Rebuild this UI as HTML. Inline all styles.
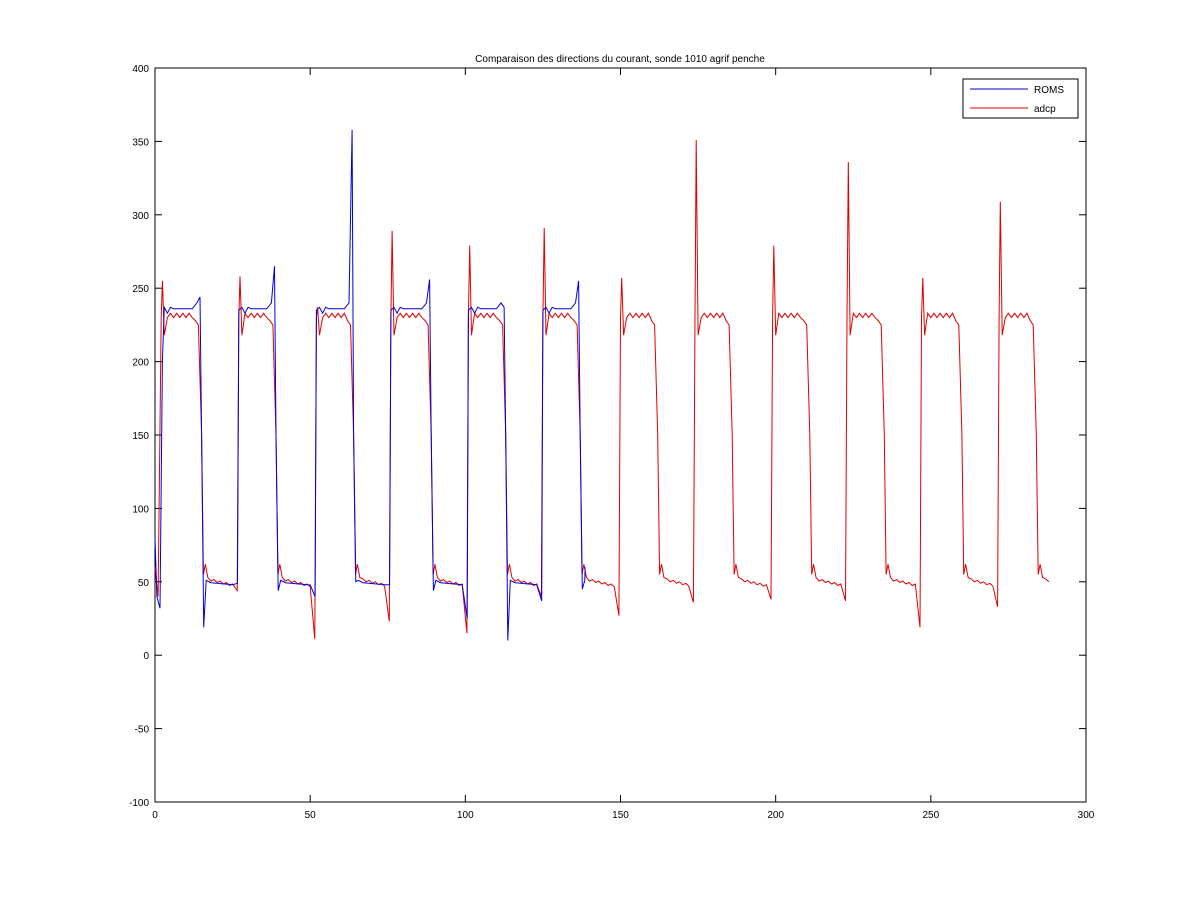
<!DOCTYPE html>
<html><head><meta charset="utf-8"><style>
body{margin:0;background:#fff;}
svg{display:block;font-family:"Liberation Sans",sans-serif;}
</style></head><body>
<svg id="s" width="1200" height="901" xmlns="http://www.w3.org/2000/svg">
<rect width="1200" height="901" fill="#fff"/>
<rect x="155" y="68" width="931" height="734" fill="#fff" stroke="#000" stroke-width="1"/>
<g id="ticks" stroke="#000" stroke-width="1"></g>
<g id="lab" font-size="10" fill="#000"></g>
<text x="620" y="62" font-size="10" text-anchor="middle">Comparaison des directions du courant, sonde 1010 agrif penche</text>
<polyline id="red" fill="none" stroke="#e00000" stroke-width="1"/>
<polyline id="blue" fill="none" stroke="#0000e0" stroke-width="1"/>
<g>
<rect x="963" y="79" width="115" height="39" fill="#fff" stroke="#000"/>
<line x1="970" y1="89" x2="1028" y2="89" stroke="#0000e0"/>
<line x1="970" y1="108" x2="1028" y2="108" stroke="#e00000"/>
<text x="1034" y="93" font-size="10">ROMS</text>
<text x="1034" y="112" font-size="10">adcp</text>
</g>
</svg>
<script>
var X=function(v){return 155+v*931/300;},Y=function(v){return 68+(400-v)*1.468;};
var t=document.getElementById('ticks'),l=document.getElementById('lab'),h='',g='';
for(var v=0;v<=300;v+=50){var x=X(v);h+='<line x1="'+x+'" y1="802" x2="'+x+'" y2="795"/><line x1="'+x+'" y1="68" x2="'+x+'" y2="75"/>';g+='<text x="'+x+'" y="818" text-anchor="middle">'+v+'</text>';}
for(var v=-100;v<=400;v+=50){var y=Y(v);h+='<line x1="155" y1="'+y+'" x2="162" y2="'+y+'"/><line x1="1086" y1="'+y+'" x2="1079" y2="'+y+'"/>';g+='<text x="149" y="'+(y+4)+'" text-anchor="end">'+v+'</text>';}
t.innerHTML=h;l.innerHTML=g;
var rise=[2,27,52,76,101,125,150,174,199,223,247,272];
var peak=[255,258,237,289,279,291,257,351,279,336,257,309];
var fall=[15,39,64,89,113,137,162,186,211,235,260,284];
var mins=[44,11,23,15,40,27,36,38,37,19,33];
var r=[[0,60],[1,40]];
for(var i=0;i<12;i++){
 var a=rise[i],b=fall[i];
 r.push([a,230]);r.push([a+0.4,peak[i]]);r.push([a+1,218]);
 for(var k=a+2;k<b-2;k++)r.push([k,230+((k%2)?3:0)]);
 r.push([b-2,228]);r.push([b-1,225]);r.push([b,150]);r.push([b+0.6,55]);
 r.push([b+1.2,62]);r.push([b+2,53]);
 var e=(i<11)?rise[i+1]:290;
 for(var k=b+3;k<e-1;k++)r.push([k,52-(k-b)*0.5+((k%2)?1.5:0)]);
 if(i<11)r.push([e-0.5,mins[i]]);else r.push([288,50]);
}
var bl=[[0,80],[0.6,40],[1.6,32],[2.4,200]];
var bpk=[244,265,358,256,237,255],bmin=[19,44,50,44,10,45],bdip=[49,40,48,25,37];
for(var i=0;i<6;i++){
 var a=rise[i],b=fall[i];
 if(i>0)bl.push([a,235]);
 bl.push([a+1,237]);bl.push([a+2,233]);bl.push([a+3,237]);
 for(var k=a+4;k<b-2;k++)bl.push([k,236]);
 bl.push([b-1.5,240]);bl.push([b-0.5,bpk[i]]);bl.push([b,150]);
 bl.push([b+0.7,bmin[i]]);bl.push([b+1.5,51]);
 if(i<5){var e=rise[i+1];for(var k=b+3;k<e-1;k++)bl.push([k,50-(k-b)*0.2]);bl.push([e-0.4,bdip[i]]);}
 else{bl.push([b+1.6,60]);}
}
function P(a){return a.map(function(p){return X(p[0]).toFixed(1)+','+Y(p[1]).toFixed(1)}).join(' ');}
document.getElementById('red').setAttribute('points',P(r));
document.getElementById('blue').setAttribute('points',P(bl));
</script>
</body></html>
